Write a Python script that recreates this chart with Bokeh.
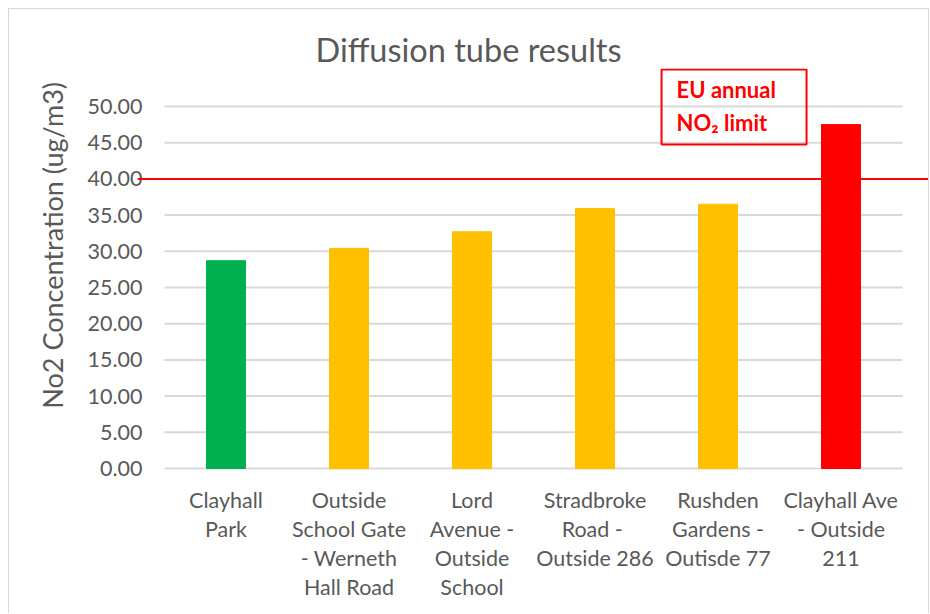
from bokeh.plotting import figure
from bokeh.models import (Range1d, FixedTicker, PrintfTickFormatter, Span,
                          BoxAnnotation, Label, ColumnDataSource)
from bokeh.embed import file_html
from bokeh.resources import INLINE

# ---- data ----
sites = [
    "Clayhall\nPark",
    "Outside\nSchool Gate\n- Werneth\nHall Road",
    "Lord\nAvenue -\nOutside\nSchool",
    "Stradbroke\nRoad  -\nOutside 286",
    "Rushden\nGardens -\nOutisde 77",
    "Clayhall Ave\n- Outside\n211",
]
no2 = [28.7, 30.4, 32.7, 35.9, 36.5, 47.5]
bar_colors = ["#00B050", "#FFC000", "#FFC000", "#FFC000", "#FFC000", "#FF0000"]
y_ticks = [0, 5, 10, 15, 20, 25, 30, 35, 40, 45, 50]
eu_limit = 40
limit_text = ["EU annual", "NO\u2082 limit"]

FONT = "Lato"
GREY = "#595959"

xpos = [i + 0.5 for i in range(len(sites))]
src = ColumnDataSource(dict(x=xpos, top=no2, color=bar_colors))

p = figure(frame_width=791, frame_height=402, output_backend="svg", toolbar_location=None,
           x_range=Range1d(-0.2195, 6.2114), y_range=Range1d(-0.276, 55.25),
           min_border_left=128, min_border_right=0, min_border_top=59,
           min_border_bottom=143, outline_line_color=None,
           styles={"margin-left": "8px", "margin-top": "8px",
                   "border": "1px solid #d9d9d9", "border-bottom": "none"})

# grid lines spanning the category extent only
p.xgrid.visible = False
p.ygrid.visible = False
p.segment(x0=[0] * len(y_ticks), x1=[len(sites)] * len(y_ticks), y0=y_ticks, y1=y_ticks,
          line_color="#d9d9d9", line_width=2)

p.vbar(x="x", top="top", width=0.317, color="color", source=src)

p.add_layout(Span(location=eu_limit, dimension="width", line_color="#FF0000", line_width=2))

# title
p.title.text = "Diffusion tube results"
p.title.align = "left"
p.title.offset = 178
p.title.text_font = FONT
p.title.text_font_size = "32.5px"
p.title.text_font_style = "normal"
p.title.text_color = GREY
p.title.standoff = 0

# y axis
ya = p.yaxis[0]
ya.ticker = FixedTicker(ticks=y_ticks)
ya.formatter = PrintfTickFormatter(format="%.2f")
ya.axis_line_color = None
ya.major_tick_line_color = None
ya.minor_tick_line_color = None
ya.major_tick_out = 0
ya.major_tick_in = 0
ya.major_label_standoff = -5
ya.major_label_text_font = FONT
ya.major_label_text_font_size = "21.5px"
ya.major_label_text_color = GREY
ya.axis_label = "\u00a0" * 7 + "No2 Concentration (ug/m3)"
ya.axis_label_text_font = FONT
ya.axis_label_text_font_size = "27px"
ya.axis_label_text_font_style = "normal"
ya.axis_label_text_color = GREY
ya.axis_label_standoff = 16

# x axis
xa = p.xaxis[0]
xa.ticker = FixedTicker(ticks=xpos)
xa.major_label_overrides = {x: s for x, s in zip(xpos, sites)}
xa.axis_line_color = None
xa.major_tick_line_color = None
xa.minor_tick_line_color = None
xa.major_tick_out = 0
xa.major_tick_in = 0
xa.major_label_standoff = 16
xa.major_label_text_font = FONT
xa.major_label_text_font_size = "21.5px"
xa.major_label_text_color = GREY
xa.major_label_text_line_height = 1.12

# limit annotation box
p.add_layout(BoxAnnotation(left=4.041, right=5.220, top=55.11, bottom=44.75,
                           fill_color=None, fill_alpha=0, line_color="#FF0000",
                           line_alpha=1.0, line_width=2))
for txt, yy in zip(limit_text, [52.35, 47.79]):
    p.add_layout(Label(x=4.163, y=yy, text=txt, text_align="left", text_baseline="middle",
                       text_font=FONT, text_font_size="22px", text_font_style="bold",
                       text_color="#FF0000"))

open("out.html", "w").write(file_html(p, INLINE))
